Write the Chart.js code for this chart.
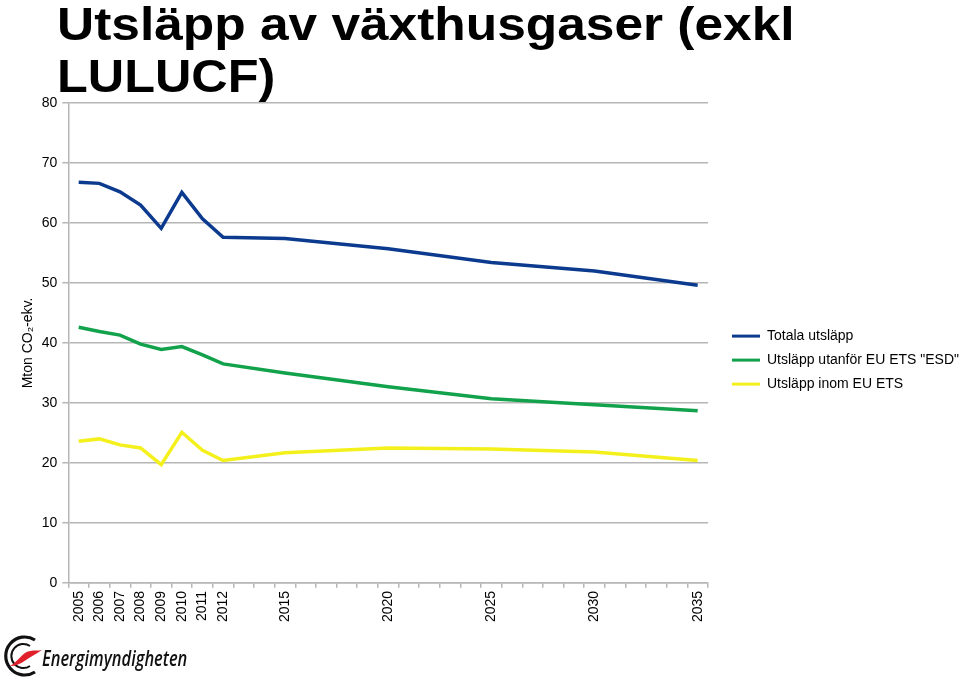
<!DOCTYPE html>
<html>
<head>
<meta charset="utf-8">
<script src="https://cdn.jsdelivr.net/npm/chart.js@4/dist/chart.umd.min.js"></script>
<style>
  html, body { margin: 0; padding: 0; background: #fff; }
  #wrap { position: relative; width: 960px; height: 679px; overflow: hidden; }
  #chart { position: absolute; left: 0; top: 0; }
  .title {
    position: absolute; left: 57px; margin: 0;
    font-family: "Liberation Sans Narrow", "Arial Narrow", "Liberation Sans", Arial, sans-serif;
    font-weight: bold; font-size: 46px; line-height: 1; color: #000;
    white-space: nowrap; transform-origin: 0 0;
  }
  #logo { position: absolute; left: 2px; top: 632px; }
  #logoText {
    position: absolute; left: 42px; top: 648px; margin: 0;
    font-family: "Open Sans", "Liberation Sans", Arial, sans-serif; font-style: italic; font-weight: 600;
    font-size: 21px; line-height: 1; color: #111; white-space: nowrap; transform-origin: 0 0;
  }
</style>
</head>
<body>
<div id="wrap">
  <canvas id="chart" width="960" height="679"></canvas>
  <div class="title" id="t1" style="top:1px">Utsläpp av växthusgaser (exkl</div>
  <div class="title" id="t2" style="top:53px">LULUCF)</div>
  <svg id="logo" width="44" height="46" viewBox="0 0 44 46">
    <path d="M33 8 A19 19 0 1 0 33 40" fill="none" stroke="#111" stroke-width="3.2"/>
    <path d="M28 14 A12 12 0 1 0 28 34" fill="none" stroke="#111" stroke-width="2"/>
    <path d="M8 34 C16 30, 20 20, 28 19 C33 18, 36 19, 40 18 C34 22, 30 24, 24 28 C18 32, 14 34, 8 34 Z" fill="#e0202a"/>
  </svg>
  <div id="logoText">Energimyndigheten</div>
</div>
<script>
'use strict';
// x axis: one category per year, labels only where the source shows them
var years = [];
for (var yr = 2005; yr <= 2035; yr++) years.push(String(yr));
var shownYears = ['2005','2006','2007','2008','2009','2010','2011','2012','2015','2020','2025','2030','2035'];

// values (Mton CO2-ekv.), keyed by shownYears
var totala = [66.8, 66.6, 65.2, 63.0, 59.1, 65.1, 60.7, 57.6, 57.4, 55.7, 53.4, 52.0, 49.6];
var utanforEts = [42.6, 41.9, 41.3, 39.8, 38.9, 39.4, 38.0, 36.5, 35.0, 32.7, 30.7, 29.7, 28.7];
var inomEts = [23.6, 24.0, 23.0, 22.5, 19.7, 25.1, 22.1, 20.4, 21.7, 22.5, 22.3, 21.8, 20.4];

var seriesNames = ['Totala utsläpp', 'Utsläpp utanför EU ETS "ESD"', 'Utsläpp inom EU ETS'];
var seriesColors = ['#0b3a8e', '#12a24c', '#f4f01c'];

var yTicks = [0, 10, 20, 30, 40, 50, 60, 70, 80];

function spread(vals) {
  return years.map(function (y) {
    var i = shownYears.indexOf(y);
    return i < 0 ? null : vals[i];
  });
}

var font = { family: '"Liberation Sans", Arial, sans-serif', size: 14 };
var gridColor = '#b6b6b6';

var datasets = [totala, utanforEts, inomEts].map(function (vals, i) {
  return {
    label: seriesNames[i],
    data: spread(vals),
    borderColor: seriesColors[i],
    backgroundColor: seriesColors[i],
    borderWidth: 3.5,
    pointRadius: 0,
    tension: 0,
    spanGaps: true
  };
});

var ctx = document.getElementById('chart').getContext('2d');
new Chart(ctx, {
  type: 'line',
  data: { labels: years, datasets: datasets },
  options: {
    responsive: false,
    animation: false,
    events: [],
    layout: { padding: { left: 7, top: 103, bottom: 54, right: -9 } },
    scales: {
      x: {
        offset: true,
        grid: { display: true, offset: true, drawOnChartArea: false, drawTicks: true, tickLength: 5, color: gridColor, lineWidth: 1.5 },
        border: { display: true, color: gridColor, width: 1.5 },
        ticks: {
          autoSkip: false, maxRotation: 90, minRotation: 90, padding: 3,
          color: '#000', font: font,
          callback: function (v) {
            var l = this.getLabelForValue(v);
            return shownYears.indexOf(l) < 0 ? '' : l;
          }
        }
      },
      y: {
        min: 0, max: 80,
        afterBuildTicks: function (s) { s.ticks = yTicks.map(function (v) { return { value: v }; }); },
        grid: { color: gridColor, lineWidth: 1.5, tickLength: 6 },
        border: { display: true, color: gridColor, width: 1.5 },
        ticks: { color: '#000', font: font, padding: 5 },
        title: { display: true, text: 'Mton CO₂-ekv.', color: '#000', font: font, padding: { top: 13, bottom: 0 } }
      },
      gap: {
        position: 'right', display: true,
        grid: { display: false, drawTicks: false }, border: { display: false },
        ticks: { display: false },
        afterFit: function (s) { s.width = 14; }
      }
    },
    plugins: {
      legend: {
        position: 'right',
        maxWidth: 320,
        // empty title with negative height nudges the centred block up a little
        title: { display: true, text: '', font: { size: 1 }, padding: { top: 0, bottom: -9 } },
        labels: {
          color: '#000', font: font, boxWidth: 28, boxHeight: 3, padding: 10,
          generateLabels: function (chart) {
            return chart.data.datasets.map(function (d, i) {
              return { text: d.label, fillStyle: d.borderColor, strokeStyle: d.borderColor, lineWidth: 0, datasetIndex: i, fontColor: '#000' };
            });
          }
        }
      },
      tooltip: { enabled: false }
    }
  }
});

// fit the heading to the width it has in the original
function fit(id, w) {
  var el = document.getElementById(id);
  el.style.transform = 'scaleX(' + (w / el.offsetWidth) + ')';
}
fit('t1', 738);
fit('t2', 218);
fit('logoText', 145);
</script>
</body>
</html>
